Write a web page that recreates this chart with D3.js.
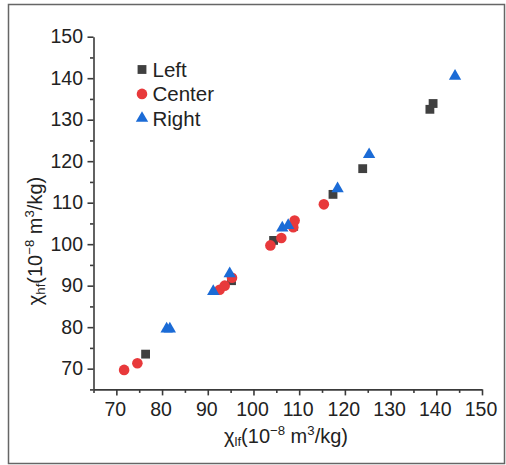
<!DOCTYPE html>
<html>
<head>
<meta charset="utf-8">
<script src="https://cdn.jsdelivr.net/npm/d3@7"></script>
<style>
  body { margin: 0; background: #fff; }
  svg text { font-family: "Liberation Sans", Arial, sans-serif; fill: #222; }
</style>
</head>
<body>
<svg id="chart" width="506" height="465"></svg>
<script>
"use strict";

// values: [chi_lf, chi_hf]
const leftPts = [[139.3, 133.9], [138.6, 132.5], [123.9, 118.2], [117.4, 112.0],
                 [108.8, 104.3], [104.4, 100.9], [95.2, 91.2], [76.4, 73.5]];
const centerPts = [[71.7, 69.7], [74.6, 71.3], [92.6, 89.0], [93.7, 90.0], [95.3, 91.9],
                   [103.7, 99.7], [106.1, 101.5], [108.7, 104.1], [109.0, 105.7], [115.4, 109.6]];
const rightPts = [[144.1, 140.5], [125.3, 121.6], [118.4, 113.4], [106.3, 103.9], [107.6, 104.5],
                  [94.8, 92.9], [91.2, 88.6], [81.0, 79.6], [81.7, 79.6]];
const seriesNames = ["Left", "Center", "Right"];
const majorTicks = [70, 80, 90, 100, 110, 120, 130, 140, 150];
const minorTicks = [65, 75, 85, 95, 105, 115, 125, 135, 145];

const series = [
    {name: seriesNames[0], data: leftPts, shape: d3.symbolSquare, size: 78, color: "#404040"},
    {name: seriesNames[1], data: centerPts, shape: d3.symbolCircle, size: 88, color: "#e8393b"},
    {name: seriesNames[2], data: rightPts, shape: d3.symbolTriangle, size: 66, color: "#1b6bd6"},
];

const svg = d3.select("#chart");
const axisColor = "#3a3a3a";

// outer frame
svg.append("rect")
    .attr("x", 8.5).attr("y", 4.5)
    .attr("width", 496).attr("height", 459)
    .attr("fill", "none").attr("stroke", "#666").attr("stroke-width", 1.5);

const x = d3.scaleLinear().domain([65, 150]).range([93.5, 482]);
const y = d3.scaleLinear().domain([65, 150]).range([389.4, 36.7]);

// minor ticks first, then major axes
svg.append("g")
    .attr("transform", `translate(0,${y(65)})`)
    .call(d3.axisBottom(x).tickValues(minorTicks).tickSize(3.5).tickFormat(""))
    .call(g => g.select(".domain").remove());
svg.append("g")
    .attr("transform", `translate(${x(65)},0)`)
    .call(d3.axisLeft(y).tickValues(minorTicks).tickSize(3.5).tickFormat(""))
    .call(g => g.select(".domain").remove());

svg.append("g")
    .attr("class", "xaxis")
    .attr("transform", `translate(0,${y(65)})`)
    .call(d3.axisBottom(x).tickValues(majorTicks).tickSize(6).tickPadding(7).tickSizeOuter(0))
    .call(g => g.selectAll("text").attr("dx", -1.5));
svg.append("g")
    .attr("class", "yaxis")
    .attr("transform", `translate(${x(65)},0)`)
    .call(d3.axisLeft(y).tickValues(majorTicks).tickSize(6).tickPadding(4.5).tickSizeOuter(0));

svg.selectAll(".tick line, .domain")
    .attr("stroke", axisColor).attr("stroke-width", 1.6);
svg.selectAll(".xaxis text, .yaxis text")
    .attr("font-size", 19.5).attr("fill", "#222")
    .style("font-family", "'Liberation Sans', Arial, sans-serif");

// data marks
const sym = d3.symbol();
svg.append("g")
    .selectAll("g.series")
    .data(series)
    .join("g")
    .attr("class", "series")
    .attr("fill", d => d.color)
    .selectAll("path")
    .data(d => d.data.map(p => [d, p]))
    .join("path")
    .attr("transform", ([_, p]) => `translate(${x(p[0])},${y(p[1])})`)
    .attr("d", ([s]) => sym.type(s.shape).size(s.size)());

// legend
const legend = svg.append("g").attr("transform", "translate(142,69.5)");
legend.selectAll("g")
    .data(series)
    .join("g")
    .attr("transform", (d, i) => `translate(0,${i * 24.4})`)
    .call(g => g.append("path")
        .attr("fill", d => d.color)
        .attr("d", d => sym.type(d.shape).size(d.size)()))
    .call(g => g.append("text")
        .attr("x", 10.5).attr("y", 7.3)
        .attr("font-size", 20.5)
        .text(d => d.name));

// axis titles
function axisTitle(t, sub) {
    t.append("tspan").text("χ");
    t.append("tspan").attr("font-size", "0.66em").attr("dy", 3).text(sub);
    t.append("tspan").attr("dy", -3).text("(10");
    t.append("tspan").attr("font-size", "0.66em").attr("dy", -8).text("−8");
    t.append("tspan").attr("dy", 8).text(" m");
    t.append("tspan").attr("font-size", "0.66em").attr("dy", -8).text("3");
    t.append("tspan").attr("dy", 8).text("/kg)");
}

svg.append("text")
    .attr("x", 286).attr("y", 443)
    .attr("text-anchor", "middle")
    .attr("font-size", 20)
    .call(axisTitle, "lf");

svg.append("text")
    .attr("transform", "translate(42,241) rotate(-90)")
    .attr("text-anchor", "middle")
    .attr("font-size", 20)
    .call(axisTitle, "hf");
</script>
</body>
</html>
